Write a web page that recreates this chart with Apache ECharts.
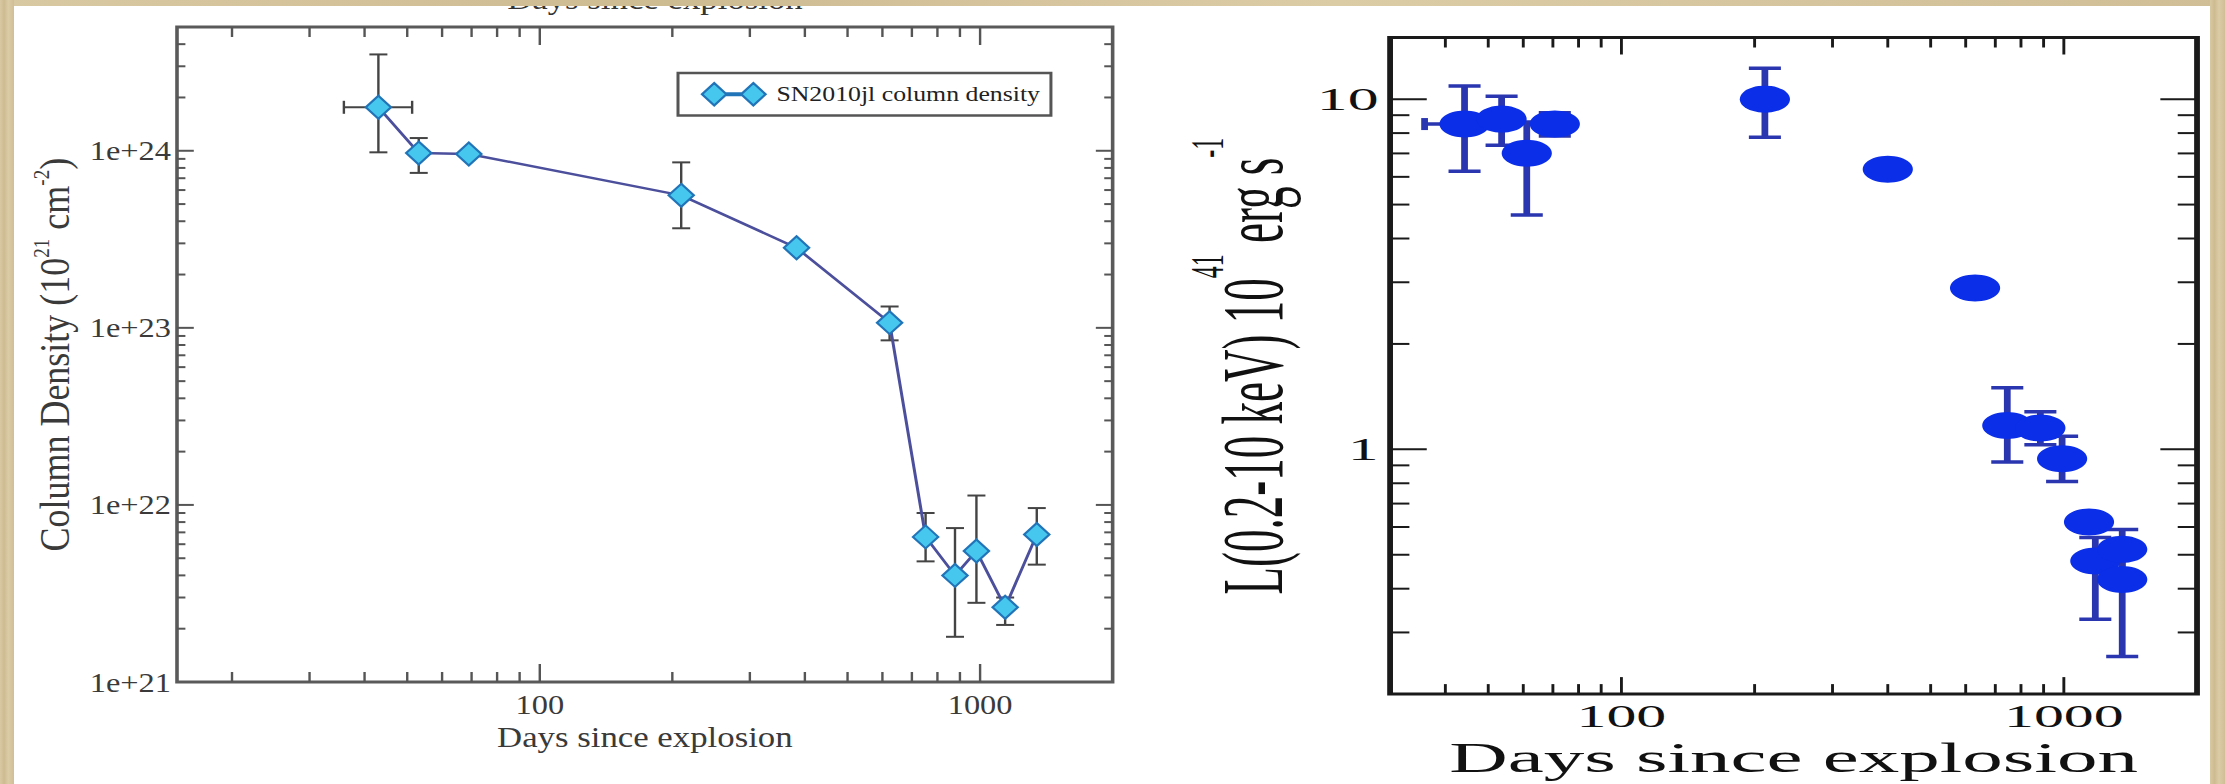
<!DOCTYPE html>
<html><head><meta charset="utf-8">
<script src="https://cdn.jsdelivr.net/npm/echarts@6/dist/echarts.min.js"></script>
<style>
html,body{margin:0;padding:0;}
body{width:2225px;height:784px;position:relative;overflow:hidden;background:#fff;}
#left{position:absolute;left:0;top:0;width:958.33px;height:784px;transform:scaleX(1.2);transform-origin:0 0;}
#right{position:absolute;left:1150px;top:0;width:557px;height:784px;transform:scaleX(1.93);transform-origin:0 0;}
.band{position:absolute;z-index:5;background:linear-gradient(90deg,#d9c9a2,#cdbb92 30%,#dccca6 60%,#cfbe96);}
</style></head><body>
<div id="left"></div><div id="right"></div>
<div class="band" style="left:0;top:0;width:2225px;height:6px"></div>
<div class="band" style="left:0;top:0;width:14px;height:784px"></div>
<div class="band" style="left:2210px;top:0;width:15px;height:784px"></div>
<script>
const FONT = "'Liberation Serif','Times New Roman',serif";

// ---------- Left panel: column density ----------
const nhDays   = [43.0, 53.1, 69.0, 209.5, 383, 623, 752, 877, 981, 1140, 1345];
const nhValues = [1.76e24, 0.97e24, 0.96e24, 5.6e23, 2.83e23, 1.07e23, 6.6e21, 4.0e21, 5.5e21, 2.64e21, 6.8e21];
const nhLow    = [0.98e24, 0.75e24, null, 3.65e23, null, 8.5e22, 4.8e21, 1.8e21, 2.8e21, 2.1e21, 4.6e21];
const nhHigh   = [3.5e24, 1.18e24, null, 8.6e23, null, 1.32e23, 9.0e21, 7.4e21, 1.13e22, 3.0e21, 9.6e21];
const nhDaysLow  = [35.9, null, null, null, null, null, null, null, null, null, null];
const nhDaysHigh = [51.3, null, null, null, null, null, null, null, null, null, null];
const nhSeriesName = 'SN2010jl column density';
const leftXRange = [15, 2000];
const leftYRange = [1e21, 5e24];
const leftXMajor = [100, 1000];
const leftXMinor = [20,30,40,50,60,70,80,90,200,300,400,500,600,700,800,900];
const leftYMajor = [1e22, 1e23, 1e24];
const leftYMinor = [2e21,3e21,4e21,5e21,6e21,7e21,8e21,9e21,2e22,3e22,4e22,5e22,6e22,7e22,8e22,9e22,2e23,3e23,4e23,5e23,6e23,7e23,8e23,9e23,2e24,3e24,4e24];

// ---------- Right panel: X-ray luminosity ----------
const lxDays   = [44.2, 53.6, 61.1, 70.7, 211, 400, 630, 745, 885, 991, 1140, 1178, 1355, 1355];
const lxValues = [8.49, 8.77, 7.01, 8.49, 10.0, 6.31, 2.89, 1.17, 1.15, 0.94, 0.62, 0.48, 0.518, 0.425];
const lxLow    = [6.23, 7.39, 4.67, 7.85, 7.79, null, null, 0.92, 1.03, 0.81, null, 0.327, 0.45, 0.256];
const lxHigh   = [10.9, 10.2, 8.6, 9.15, 12.25, null, null, 1.50, 1.28, 1.09, null, 0.56, 0.59, 0.50];
const lxDaysLow  = [35.9, null, null, null, null, null, null, null, null, null, null, null, null, null];
const lxDaysHigh = [54.0, null, null, null, null, null, null, null, null, null, null, null, null, null];
const rightXRange = [30, 2000];
const rightYRange = [0.2, 15];
const rightXMajor = [100, 1000];
const rightXMinor = [40,50,60,70,80,90,200,300,400,500,600,700,800,900];
const rightYMajor = [1, 10];
const rightYMinor = [0.3,0.4,0.5,0.6,0.7,0.8,0.9,2,3,4,5,6,7,8,9];

function isPow10(v){ const l = Math.log10(v); return Math.abs(l - Math.round(l)) < 1e-6; }

function xTicks(values, yR, len, color, width){
  return {
    type:'custom', silent:true, z:1, animation:false,
    data: values.map(v => [v, yR[0]]), encode:{x:0, y:1},
    renderItem(params, api){
      const v = api.value(0);
      const b = api.coord([v, yR[0]]), t = api.coord([v, yR[1]]);
      const st = {stroke:color, lineWidth:width};
      return {type:'group', children:[
        {type:'line', shape:{x1:b[0], y1:b[1], x2:b[0], y2:b[1]-len}, style:st},
        {type:'line', shape:{x1:t[0], y1:t[1], x2:t[0], y2:t[1]+len}, style:st}
      ]};
    }
  };
}
function yTicks(values, xR, len, color, width){
  return {
    type:'custom', silent:true, z:1, animation:false,
    data: values.map(v => [xR[0], v]), encode:{x:0, y:1},
    renderItem(params, api){
      const v = api.value(1);
      const l = api.coord([xR[0], v]), r = api.coord([xR[1], v]);
      const st = {stroke:color, lineWidth:width};
      return {type:'group', children:[
        {type:'line', shape:{x1:l[0], y1:l[1], x2:l[0]+len, y2:l[1]}, style:st},
        {type:'line', shape:{x1:r[0], y1:r[1], x2:r[0]-len, y2:r[1]}, style:st}
      ]};
    }
  };
}
function errorBars(xs, ys, lo, hi, xlo, xhi, color, width, capHalfY, capHalfX, z){
  const data = xs.map((x, i) => [x, ys[i], lo[i] ?? ys[i], hi[i] ?? ys[i], xlo[i] ?? x, xhi[i] ?? x]);
  return {
    type:'custom', silent:true, z:z, animation:false,
    data: data, encode:{x:0, y:1},
    renderItem(params, api){
      const x = api.value(0), y = api.value(1);
      const l = api.value(2), h = api.value(3), xl = api.value(4), xh = api.value(5);
      const st = {stroke:color, lineWidth:width};
      const kids = [];
      if (l !== h) {
        const pl = api.coord([x, l]), ph = api.coord([x, h]);
        kids.push({type:'line', shape:{x1:pl[0], y1:pl[1], x2:ph[0], y2:ph[1]}, style:st});
        kids.push({type:'line', shape:{x1:pl[0]-capHalfY, y1:pl[1], x2:pl[0]+capHalfY, y2:pl[1]}, style:st});
        kids.push({type:'line', shape:{x1:ph[0]-capHalfY, y1:ph[1], x2:ph[0]+capHalfY, y2:ph[1]}, style:st});
      }
      if (xl !== xh) {
        const pl = api.coord([xl, y]), ph = api.coord([xh, y]);
        kids.push({type:'line', shape:{x1:pl[0], y1:pl[1], x2:ph[0], y2:ph[1]}, style:st});
        kids.push({type:'line', shape:{x1:pl[0], y1:pl[1]-capHalfX, x2:pl[0], y2:pl[1]+capHalfX}, style:st});
        kids.push({type:'line', shape:{x1:ph[0], y1:ph[1]-capHalfX, x2:ph[0], y2:ph[1]+capHalfX}, style:st});
      }
      return {type:'group', children:kids};
    }
  };
}

// ---------- Left chart ----------
const LCOL = '#3a3a3a';
const left = echarts.init(document.getElementById('left'), null, {renderer:'svg'});
left.setOption({
  animation:false,
  textStyle:{fontFamily:FONT},
  grid:{left:147.5, right:30.8, top:27, bottom:102, show:true, borderColor:'#5a5a5a', borderWidth:3, backgroundColor:'transparent'},
  legend:{
    data:[nhSeriesName], left:565, top:73, orient:'horizontal',
    padding:[9,9,9,19], itemWidth:53, itemHeight:26,
    icon:'path://M1,11 L11,0 L21,11 L11,22 Z M33,11 L43,0 L53,11 L43,22 Z M21,10 L33,10 L33,12 L21,12 Z',
    borderColor:'#555', borderWidth:2.5, borderRadius:0,
    textStyle:{fontFamily:FONT, fontSize:21.5, color:'#222', padding:[0,0,0,4]},
    selectedMode:false
  },
  xAxis:{
    type:'log', logBase:10, min:leftXRange[0], max:leftXRange[1],
    axisLine:{show:false}, axisTick:{show:false}, splitLine:{show:false},
    axisLabel:{fontFamily:FONT, fontSize:27, color:LCOL, margin:9,
      formatter:v => isPow10(v) ? String(Math.round(v)) : ''},
    name:'Days since explosion', nameLocation:'middle', nameGap:38,
    nameTextStyle:{fontFamily:FONT, fontSize:29, color:LCOL}
  },
  yAxis:{
    type:'log', logBase:10, min:leftYRange[0], max:leftYRange[1],
    axisLine:{show:false}, axisTick:{show:false}, splitLine:{show:false},
    axisLabel:{fontFamily:FONT, fontSize:27, color:LCOL, margin:5,
      formatter:v => isPow10(v) ? ('1e+' + Math.round(Math.log10(v))) : ''},
    name:'{m|Column Density (10}{s|21}{m| cm}{s|-2}{m|)}{sp| }', nameLocation:'middle', nameGap:75, nameRotate:90,
    nameTextStyle:{fontFamily:FONT, color:LCOL, rich:{
      m:{fontFamily:FONT, fontSize:36, lineHeight:36, color:LCOL, verticalAlign:'bottom'},
      s:{fontFamily:FONT, fontSize:19, lineHeight:19, color:LCOL, verticalAlign:'top'},
      sp:{fontSize:2, lineHeight:39}
    }}
  },
  graphic:[
    {type:'text', x:545.8, y:14, silent:true,
     style:{text:'Days since explosion', font:"29px 'Liberation Serif'", fill:'#333', align:'center', verticalAlign:'bottom'}},
    {type:'text', x:-8, y:51, silent:true,
     style:{text:'3', font:"bold 24px 'Liberation Serif'", fill:'#222', align:'left', verticalAlign:'middle'}}
  ],
  series:[
    xTicks(leftXMajor, leftYRange, 18, '#555', 2),
    xTicks(leftXMinor, leftYRange, 10, '#555', 2),
    yTicks(leftYMajor, leftXRange, 14, '#555', 2),
    yTicks(leftYMinor, leftXRange, 7, '#555', 2),
    errorBars(nhDays, nhValues, nhLow, nhHigh, nhDaysLow, nhDaysHigh, '#444', 2, 7.5, 6.5, 2),
    {type:'line', name:nhSeriesName, z:3,
     data:nhDays.map((d, i) => [d, nhValues[i]]),
     symbol:'diamond', symbolSize:[21,23], showAllSymbol:true,
     itemStyle:{color:'#46c8ee', borderColor:'#2274b8', borderWidth:2},
     lineStyle:{color:'#4b4f9c', width:2.5},
     emphasis:{disabled:true}, silent:true}
  ]
});

// ---------- Right chart ----------
const RCOL = '#111';
const right = echarts.init(document.getElementById('right'), null, {renderer:'svg'});
right.setOption({
  animation:false,
  textStyle:{fontFamily:FONT},
  grid:{left:124.4, right:14.5, top:37.5, bottom:87.5, show:true, borderColor:'#1a1a1a', borderWidth:3, backgroundColor:'transparent'},
  xAxis:{
    type:'log', logBase:10, min:rightXRange[0], max:rightXRange[1],
    axisLine:{show:false}, axisTick:{show:false}, splitLine:{show:false},
    axisLabel:{fontFamily:FONT, fontSize:31, color:RCOL, margin:7,
      formatter:v => isPow10(v) ? String(Math.round(v)) : ''},
    name:'Days since explosion', nameLocation:'middle', nameGap:38,
    nameTextStyle:{fontFamily:FONT, fontSize:42, color:RCOL}
  },
  yAxis:{
    type:'log', logBase:10, min:rightYRange[0], max:rightYRange[1],
    axisLine:{show:false}, axisTick:{show:false}, splitLine:{show:false},
    axisLabel:{fontFamily:FONT, fontSize:32, color:RCOL, margin:6,
      formatter:v => isPow10(v) ? String(Math.round(v)) : ''},
    name:'{m|L(0.2-10 keV) 10}{s|41}{m| erg s}{s|-1}{sp| }', nameLocation:'middle', nameGap:46.5, nameRotate:90,
    nameTextStyle:{fontFamily:FONT, color:RCOL, rich:{
      m:{fontFamily:FONT, fontSize:45, lineHeight:45, color:RCOL, verticalAlign:'bottom'},
      s:{fontFamily:FONT, fontSize:24, lineHeight:24, color:RCOL, verticalAlign:'top'},
      sp:{fontSize:2, lineHeight:58}
    }}
  },
  graphic:[
    {type:'text', x:551, y:152, silent:true, z:10,
     style:{text:'1', font:"30px 'Liberation Serif'", fill:'#222', align:'left', verticalAlign:'middle'}}
  ],
  series:[
    xTicks(rightXMajor, rightYRange, 17, '#1a1a1a', 1.5),
    xTicks(rightXMinor, rightYRange, 10, '#1a1a1a', 1.5),
    yTicks(rightYMajor, rightXRange, 19, '#1a1a1a', 2),
    yTicks(rightYMinor, rightXRange, 10, '#1a1a1a', 2),
    errorBars(lxDays, lxValues, lxLow, lxHigh, lxDaysLow, lxDaysHigh, '#2a35b0', 3.5, 8.3, 6, 2),
    {type:'scatter', name:'L', z:3,
     data:lxDays.map((d, i) => [d, lxValues[i]]),
     symbol:'circle', symbolSize:[26,27],
     itemStyle:{color:'#0b2ee8', opacity:1},
     emphasis:{disabled:true}, silent:true}
  ]
});
</script></body></html>
